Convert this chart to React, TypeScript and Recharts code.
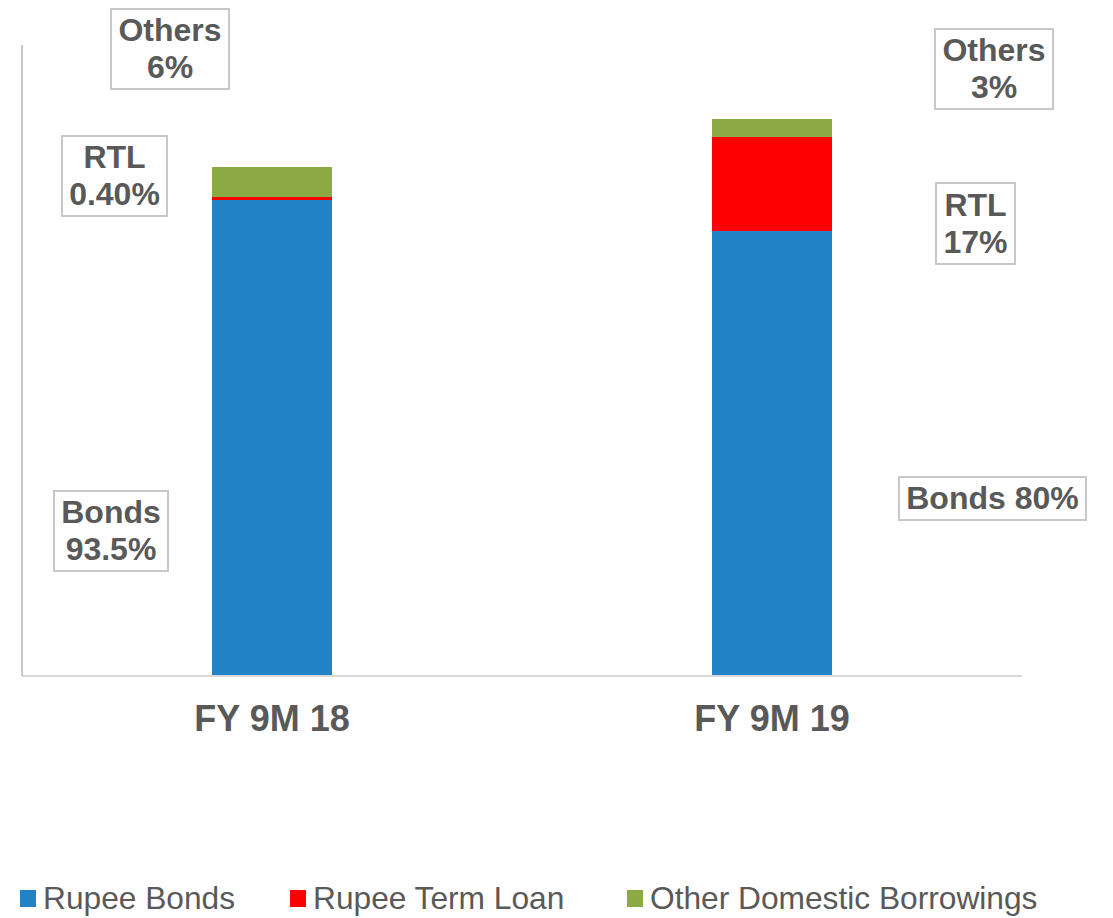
import React from 'react'
import { BarChart, Bar, XAxis, YAxis } from 'recharts'

// values (pixel-height units, baseline = 0)
const periods = ['FY 9M 18', 'FY 9M 19']
const rupeeBonds = [476, 445]
const rupeeTermLoan = [3, 94]
const otherDomestic = [30, 18]

const seriesNames = ['Rupee Bonds', 'Rupee Term Loan', 'Other Domestic Borrowings']
const seriesColors = ['#2183c6', '#ff0000', '#8caa43']
const legendLefts = [20, 290, 627]

const data = periods.map((p, i) => ({
  period: p,
  bonds: rupeeBonds[i],
  rtl: rupeeTermLoan[i],
  other: otherDomestic[i],
}))

const TEXT = '#595959'
const FONT = '"Liberation Sans", Arial, sans-serif'

interface NoteProps {
  left: number
  top: number
  width: number
  height: number
  lines: string[]
}

function Note({ left, top, width, height, lines }: NoteProps) {
  return (
    <div
      style={{
        position: 'absolute',
        left,
        top,
        width,
        height,
        boxSizing: 'border-box',
        border: '2px solid #c8c8c8',
        background: '#fff',
        display: 'flex',
        flexDirection: 'column',
        justifyContent: 'center',
        alignItems: 'center',
        fontFamily: FONT,
        fontWeight: 700,
        fontSize: 32,
        lineHeight: '37px',
        color: TEXT,
        whiteSpace: 'nowrap',
      }}
    >
      {lines.map((l, i) => (
        <span key={i}>{l}</span>
      ))}
    </div>
  )
}

function CustomLegend() {
  return (
    <>
      {seriesNames.map((n, i) => (
        <div
          key={n}
          style={{
            position: 'absolute',
            left: legendLefts[i],
            top: 879,
            display: 'flex',
            alignItems: 'center',
            fontFamily: FONT,
            fontSize: 31.7,
            lineHeight: '38px',
            color: TEXT,
            whiteSpace: 'nowrap',
          }}
        >
          <span
            style={{ display: 'inline-block', width: 16, height: 17, background: seriesColors[i], marginRight: 7 }}
          />
          <span>{n}</span>
        </div>
      ))}
    </>
  )
}

export default function App() {
  return (
    <div style={{ position: 'absolute', left: 0, top: 0, width: 1113, height: 918, background: '#fff' }}>
      <BarChart
        width={1113}
        height={918}
        data={data}
        margin={{ top: 45, right: 91, left: 0, bottom: 212 }}
      >
        <XAxis
          dataKey="period"
          height={30}
          axisLine={{ stroke: '#d9d9d9', strokeWidth: 2 }}
          tickLine={false}
          tickMargin={23}
          tick={{ fill: TEXT, fontSize: 36, fontWeight: 700, fontFamily: FONT }}
        />
        <YAxis
          domain={[0, 631]}
          width={22}
          tick={false}
          tickLine={false}
          axisLine={{ stroke: '#c8c8c8', strokeWidth: 2 }}
        />
        <Bar dataKey="bonds" name={seriesNames[0]} stackId="a" fill={seriesColors[0]} barSize={120} isAnimationActive={false} />
        <Bar dataKey="rtl" name={seriesNames[1]} stackId="a" fill={seriesColors[1]} barSize={120} isAnimationActive={false} />
        <Bar dataKey="other" name={seriesNames[2]} stackId="a" fill={seriesColors[2]} barSize={120} isAnimationActive={false} />
      </BarChart>
      <CustomLegend />
      <Note left={110} top={8} width={120} height={82} lines={['Others', '6%']} />
      <Note left={61} top={135} width={107} height={82} lines={['RTL', '0.40%']} />
      <Note left={53} top={490} width={116} height={82} lines={['Bonds', '93.5%']} />
      <Note left={934} top={28} width={120} height={82} lines={['Others', '3%']} />
      <Note left={935} top={182} width={81} height={83} lines={['RTL', '17%']} />
      <Note left={898} top={476} width={189} height={45} lines={['Bonds 80%']} />
    </div>
  )
}
